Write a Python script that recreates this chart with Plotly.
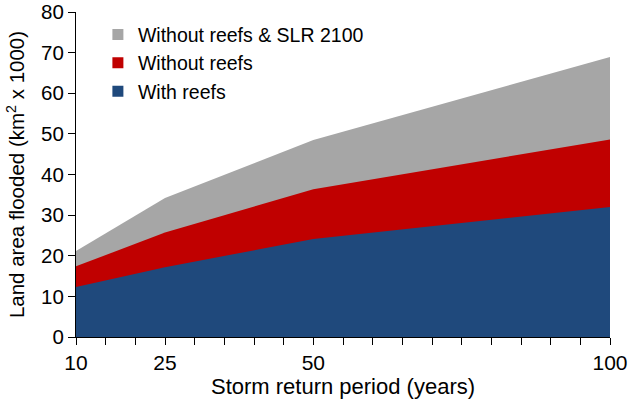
import plotly.graph_objects as go

return_period = [10, 25, 50, 100]
with_reefs = [12.3, 17.2, 24.1, 32.0]
without_reefs = [17.4, 25.7, 36.4, 48.6]
without_reefs_slr = [21.2, 34.2, 48.5, 68.9]

series_names = ["Without reefs & SLR 2100", "Without reefs", "With reefs"]
series_colors = ["#a6a6a6", "#c00000", "#1f497c"]
series_values = [without_reefs_slr, without_reefs, with_reefs]

x_tickvals = [10, 25, 50, 100]
x_ticklabels = ["10", "25", "50", "100"]
x_minor_step = 5
y_tickvals = list(range(0, 81, 10))

FONT = "Liberation Sans, Arial, Helvetica, sans-serif"

fig = go.Figure()
for name, color, vals in zip(series_names, series_colors, series_values):
    fig.add_trace(go.Scatter(
        x=return_period, y=vals, mode="lines", fill="tozeroy",
        line=dict(width=0, color=color), fillcolor=color,
        showlegend=False, hoverinfo="skip",
    ))
for i, (name, color) in enumerate(zip(series_names, series_colors)):
    fig.add_trace(go.Scatter(
        x=[None], y=[None], mode="markers", name=name,
        marker=dict(symbol="square", size=11, color=color),
        legendgroup=f"g{i}", showlegend=True,
    ))

fig.update_layout(
    width=629, height=400,
    margin=dict(l=76, r=19, t=12, b=63),
    paper_bgcolor="white", plot_bgcolor="white",
    font=dict(family=FONT, size=20, color="black"),
    showlegend=True,
    legend=dict(x=0.041, y=0.99, xanchor="left", yanchor="top",
                bgcolor="rgba(0,0,0,0)", font=dict(size=19.5),
                tracegroupgap=0, itemwidth=30),
    xaxis=dict(range=[10, 100], tickmode="array", tickvals=x_tickvals,
               ticktext=x_ticklabels, ticks="outside", ticklen=7,
               tickwidth=1, tickcolor="black", showline=True, linecolor="black",
               linewidth=1, showgrid=False, zeroline=False,
               minor=dict(tick0=10, dtick=x_minor_step, ticks="outside", ticklen=7,
                          tickwidth=1, tickcolor="black", showgrid=False),
               ticklabeloverflow="allow", automargin=False,
               tickfont=dict(size=21),
               title=dict(text="Storm return period (years)", font=dict(size=22), standoff=4)),
    yaxis=dict(range=[0, 80], tickmode="array", tickvals=y_tickvals,
               ticks="outside", ticklen=7, tickwidth=1, tickcolor="black",
               showline=True, linecolor="black", linewidth=1, showgrid=False,
               zeroline=False, tickfont=dict(size=20.5),
               ticklabeloverflow="allow", automargin=False,
               title=dict(text="Land area flooded (km<sup>2</sup> x 1000)", font=dict(size=20.5), standoff=10)),
)

fig.write_html("out.html", config={"displayModeBar": False},
               post_script="document.body.style.margin='0';document.body.style.padding='0';")
